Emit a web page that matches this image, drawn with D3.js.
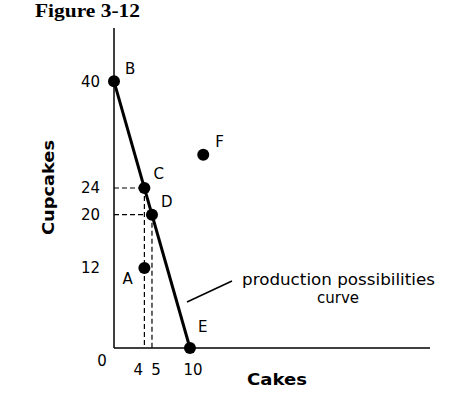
<!DOCTYPE html>
<html><head><meta charset="utf-8">
<script src="https://cdn.jsdelivr.net/npm/d3@7"></script>
<style>html,body{margin:0;padding:0;background:#fff;}</style>
</head><body>
<svg id="c" width="474" height="395"></svg>
<script>
const pointNames = ["B","C","D","A","E","F"];
const cakes      = [0, 4, 5, 4, 10, 11.75];
const cupcakes   = [40, 24, 20, 12, 0, 29];
const ppcCakes = [0, 10];
const ppcCupcakes = [40, 0];
const xTicks = [0, 4, 5, 10];
const yTicks = [12, 20, 24, 40];
const dashedPoints = ["C","D"];

const svg = d3.select("#c");
const font = "'DejaVu Sans',sans-serif";
const x = d3.scaleLinear().domain([0, 41.6]).range([114, 430]);
const y = d3.scaleLinear().domain([0, 48]).range([348, 28]);

const pts = pointNames.map((n,i)=>({n, cx:cakes[i], cy:cupcakes[i]}));

// title
svg.append("text").attr("x",35).attr("y",17).attr("font-family","'Liberation Serif','Times New Roman',serif")
  .attr("font-weight","bold").attr("font-size",18).attr("textLength",105).attr("lengthAdjust","spacingAndGlyphs").text("Figure 3-12");

// dashed guides
pts.filter(p=>dashedPoints.includes(p.n)).forEach(p=>{
  svg.append("line").attr("x1",x(0)).attr("x2",x(p.cx)).attr("y1",y(p.cy)).attr("y2",y(p.cy))
    .attr("stroke","#000").attr("stroke-width",1.2).attr("stroke-dasharray","5,3");
  svg.append("line").attr("x1",x(p.cx)).attr("x2",x(p.cx)).attr("y1",y(p.cy)).attr("y2",y(0))
    .attr("stroke","#000").attr("stroke-width",1.2).attr("stroke-dasharray","5,3");
});

// axes
svg.append("line").attr("x1",x(0)).attr("x2",x(0)).attr("y1",y(48)).attr("y2",y(0)).attr("stroke","#000").attr("stroke-width",1.5);
svg.append("line").attr("x1",x(0)).attr("x2",x(41.6)).attr("y1",y(0)).attr("y2",y(0)).attr("stroke","#000").attr("stroke-width",1.5);

// tick labels
svg.selectAll(".yt").data(yTicks).enter().append("text")
  .attr("x",100).attr("y",d=>y(d)).attr("dy","0.36em").attr("text-anchor","end")
  .attr("font-family",font).attr("font-size",15).text(d=>d);
const xOff = {0:-12, 4:-6, 5:4, 10:3};
svg.selectAll(".xt").data(xTicks).enter().append("text")
  .attr("x",d=>x(d)+xOff[d]).attr("y",d=>d===0?366:375).attr("text-anchor","middle")
  .attr("font-family",font).attr("font-size",15).text(d=>d);

// PPC line
svg.append("path").datum(ppcCakes.map((c,i)=>[c,ppcCupcakes[i]]))
  .attr("d", d3.line().x(d=>x(d[0])).y(d=>y(d[1])))
  .attr("stroke","#000").attr("stroke-width",3).attr("fill","none");

// points
svg.selectAll(".pt").data(pts).enter().append("circle")
  .attr("cx",d=>x(d.cx)).attr("cy",d=>y(d.cy)).attr("r",6).attr("fill","#000");

// point labels
const lblOff = {B:[11,-7],C:[9,-9],D:[9,-8],A:[-22,16],E:[8,-16],F:[12,-8]};
svg.selectAll(".pl").data(pts).enter().append("text")
  .attr("x",d=>x(d.cx)+lblOff[d.n][0]).attr("y",d=>y(d.cy)+lblOff[d.n][1])
  .attr("font-family",font).attr("font-size",15).text(d=>d.n);

// annotation
svg.append("line").attr("x1",232).attr("y1",281).attr("x2",187).attr("y2",302).attr("stroke","#000").attr("stroke-width",1.5);
svg.append("text").attr("x",242).attr("y",285).attr("font-family",font).attr("font-size",15)
  .attr("textLength",193).attr("lengthAdjust","spacingAndGlyphs").text("production possibilities");
svg.append("text").attr("x",338).attr("y",303).attr("text-anchor","middle").attr("font-family",font).attr("font-size",15).text("curve");

// axis titles
svg.append("text").attr("x",247).attr("y",385).attr("font-family",font)
  .attr("font-weight","bold").attr("font-size",15).attr("textLength",60).attr("lengthAdjust","spacingAndGlyphs").text("Cakes");
svg.append("text").attr("transform","translate(54,235) rotate(-90)").attr("font-family",font)
  .attr("font-weight","bold").attr("font-size",15).attr("textLength",95).attr("lengthAdjust","spacingAndGlyphs").text("Cupcakes");
</script>
</body></html>
